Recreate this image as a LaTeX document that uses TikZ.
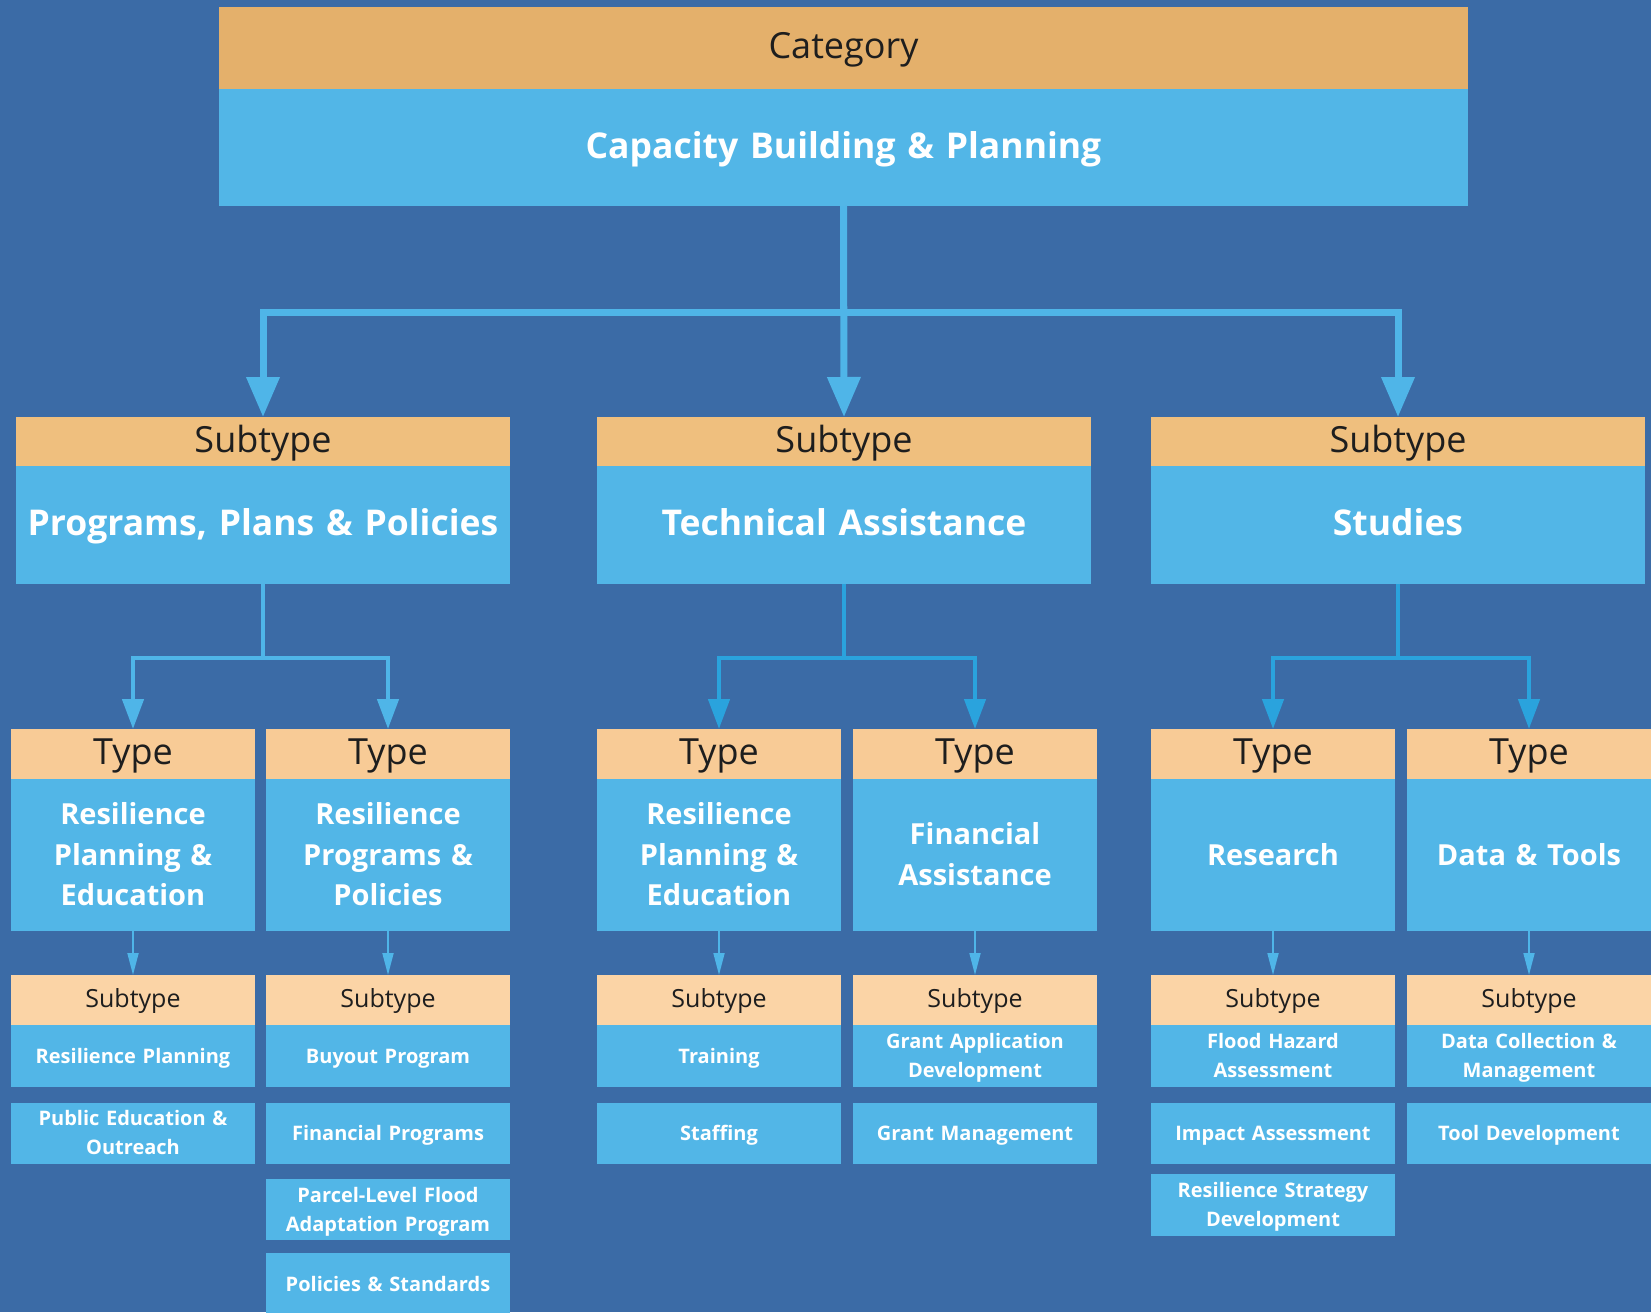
\documentclass[tikz,border=0pt]{standalone}
\usepackage{fontspec}
\setmainfont{Open Sans}
\usetikzlibrary{arrows.meta}

\definecolor{bg}{HTML}{3B6BA6}
\definecolor{catorange}{HTML}{E4B06B}
\definecolor{suborange}{HTML}{EFBF7E}
\definecolor{typeorange}{HTML}{F8CB96}
\definecolor{leaforange}{HTML}{FBD4A6}
\definecolor{boxblue}{HTML}{52B6E7}
\definecolor{linelight}{HTML}{4FB5E8}
\definecolor{linedeep}{HTML}{2AA3DD}
\definecolor{ink}{HTML}{1E1E1E}

% invisible rule that fixes the height and depth of every text line in a box
\newcommand\boxstrut{\rule[-0.25\baselineskip]{0pt}{\baselineskip}}

\tikzset{
  box/.style={inner sep=0pt, outer sep=0pt, anchor=north west, align=center,
    execute at begin node=\boxstrut, execute at end node=\boxstrut},
  cathdr/.style={box, fill=catorange, text=ink, font=\fontsize{36}{42}\selectfont},
  subhdr/.style={box, fill=suborange, text=ink, font=\fontsize{36}{42}\selectfont},
  typehdr/.style={box, fill=typeorange, text=ink, font=\fontsize{36}{42}\selectfont},
  leafhdr/.style={box, fill=leaforange, text=ink, font=\fontsize{25}{30}\selectfont},
  bigbody/.style={box, fill=boxblue, text=white, font=\fontsize{35.5}{42}\selectfont\bfseries},
  typebody/.style={box, fill=boxblue, text=white, font=\fontsize{29}{40.5}\selectfont\bfseries},
  leafbody/.style={box, fill=boxblue, text=white, font=\fontsize{20}{29}\selectfont\bfseries},
  conA/.style={draw=linelight, line width=7pt},
  conAtip/.style={conA, -{Triangle[width=32pt,length=40pt]}},
  conB/.style={line width=4.5pt},
  conBtip/.style={conB, -{Triangle[width=21pt,length=30pt]}},
  conC/.style={draw=linelight, line width=1.8pt, -{Triangle[width=11pt,length=22pt]}},
}

% \blk{name}{x}{y}{width}{height}{style}{text}
\newcommand\blk[7]{\node[#6, minimum width=#4pt, text width=#4pt, minimum height=#5pt] (#1) at (#2,#3) {#7};}

\begin{document}
\begin{tikzpicture}[x=1pt,y=-1pt]
  \fill[bg] (0,0) rectangle (1651,1312);
  \useasboundingbox (0,0) rectangle (1651,1312);

  % category
  \blk{cat-h}{219}{7}{1249}{82}{cathdr}{Category}
  \blk{cat-b}{219}{89}{1249}{117}{bigbody}{Capacity Building \& Planning}

  % subtypes
  \blk{s1-h}{16}{417}{494}{49}{subhdr}{Subtype}
  \blk{s1-b}{16}{466}{494}{118}{bigbody}{Programs, Plans \& Policies}
  \blk{s2-h}{597}{417}{494}{49}{subhdr}{Subtype}
  \blk{s2-b}{597}{466}{494}{118}{bigbody}{Technical Assistance}
  \blk{s3-h}{1151}{417}{494}{49}{subhdr}{Subtype}
  \blk{s3-b}{1151}{466}{494}{118}{bigbody}{Studies}

  % types
  \blk{t1-h}{11}{729}{244}{50}{typehdr}{Type}
  \blk{t1-b}{11}{779}{244}{152}{typebody}{Resilience\\Planning \&\\Education}
  \blk{t2-h}{266}{729}{244}{50}{typehdr}{Type}
  \blk{t2-b}{266}{779}{244}{152}{typebody}{Resilience\\Programs \&\\Policies}
  \blk{t3-h}{597}{729}{244}{50}{typehdr}{Type}
  \blk{t3-b}{597}{779}{244}{152}{typebody}{Resilience\\Planning \&\\Education}
  \blk{t4-h}{853}{729}{244}{50}{typehdr}{Type}
  \blk{t4-b}{853}{779}{244}{152}{typebody}{Financial\\Assistance}
  \blk{t5-h}{1151}{729}{244}{50}{typehdr}{Type}
  \blk{t5-b}{1151}{779}{244}{152}{typebody}{Research}
  \blk{t6-h}{1407}{729}{244}{50}{typehdr}{Type}
  \blk{t6-b}{1407}{779}{244}{152}{typebody}{Data \& Tools}

  % leaf subtypes
  \blk{l1-h}{11}{975}{244}{49.5}{leafhdr}{Subtype}
  \blk{l1-b}{11}{1024.5}{244}{62.5}{leafbody}{Resilience Planning}
  \blk{l1-c}{11}{1102.5}{244}{61}{leafbody}{Public Education \&\\Outreach}

  \blk{l2-h}{266}{975}{244}{49.5}{leafhdr}{Subtype}
  \blk{l2-b}{266}{1024.5}{244}{62.5}{leafbody}{Buyout Program}
  \blk{l2-c}{266}{1102.5}{244}{61}{leafbody}{Financial Programs}
  \blk{l2-d}{266}{1179}{244}{61}{leafbody}{Parcel-Level Flood\\Adaptation Program}
  \blk{l2-e}{266}{1253}{244}{62}{leafbody}{Policies \& Standards}

  \blk{l3-h}{597}{975}{244}{49.5}{leafhdr}{Subtype}
  \blk{l3-b}{597}{1024.5}{244}{62.5}{leafbody}{Training}
  \blk{l3-c}{597}{1102.5}{244}{61}{leafbody}{Staffing}

  \blk{l4-h}{853}{975}{244}{49.5}{leafhdr}{Subtype}
  \blk{l4-b}{853}{1024.5}{244}{62.5}{leafbody}{Grant Application\\Development}
  \blk{l4-c}{853}{1102.5}{244}{61}{leafbody}{Grant Management}

  \blk{l5-h}{1151}{975}{244}{49.5}{leafhdr}{Subtype}
  \blk{l5-b}{1151}{1024.5}{244}{62.5}{leafbody}{Flood Hazard\\Assessment}
  \blk{l5-c}{1151}{1102.5}{244}{61}{leafbody}{Impact Assessment}
  \blk{l5-d}{1151}{1174}{244}{62}{leafbody}{Resilience Strategy\\Development}

  \blk{l6-h}{1407}{975}{244}{49.5}{leafhdr}{Subtype}
  \blk{l6-b}{1407}{1024.5}{244}{62.5}{leafbody}{Data Collection \&\\Management}
  \blk{l6-c}{1407}{1102.5}{244}{61}{leafbody}{Tool Development}

  % category -> subtypes
  \draw[conA] (cat-b.south) -- ++(0,106) coordinate (j0);
  \draw[conAtip] (cat-b.south) -- (s2-h.north);
  \draw[conAtip] (j0) -| (s1-h.north);
  \draw[conAtip] (j0) -| (s3-h.north);

  % subtypes -> types
  \draw[conB, draw=linelight] (s1-b.south) -- ++(0,74) coordinate (j1);
  \draw[conBtip, draw=linelight] (j1) -| (t1-h.north);
  \draw[conBtip, draw=linelight] (j1) -| (t2-h.north);
  \draw[conB, draw=linedeep] (s2-b.south) -- ++(0,74) coordinate (j2);
  \draw[conBtip, draw=linedeep] (j2) -| (t3-h.north);
  \draw[conBtip, draw=linedeep] (j2) -| (t4-h.north);
  \draw[conB, draw=linedeep] (s3-b.south) -- ++(0,74) coordinate (j3);
  \draw[conBtip, draw=linedeep] (j3) -| (t5-h.north);
  \draw[conBtip, draw=linedeep] (j3) -| (t6-h.north);

  % types -> leaf subtypes
  \foreach \i in {1,...,6}
    \draw[conC] (t\i-b.south) -- (l\i-h.north);
\end{tikzpicture}
\end{document}
